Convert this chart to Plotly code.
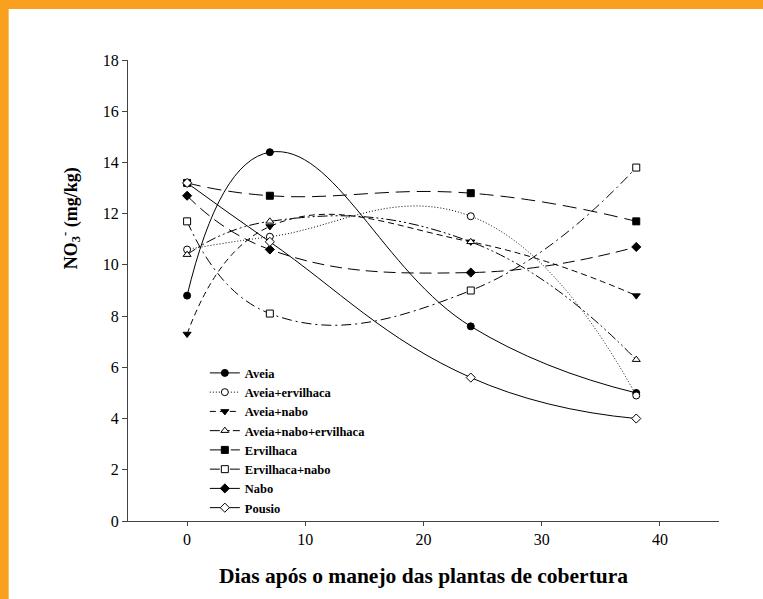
import plotly.graph_objects as go

# ---- data ----
days = [0, 7, 24, 38]
series_names = ["Aveia", "Aveia+ervilhaca", "Aveia+nabo", "Aveia+nabo+ervilhaca",
                "Ervilhaca", "Ervilhaca+nabo", "Nabo", "Pousio"]
aveia = [8.8, 14.4, 7.6, 5.0]
aveia_ervilhaca = [10.6, 11.1, 11.9, 4.9]
aveia_nabo = [7.3, 11.5, 10.9, 8.8]
aveia_nabo_ervilhaca = [10.4, 11.7, 10.9, 6.3]
ervilhaca = [13.2, 12.7, 12.8, 11.7]
ervilhaca_nabo = [11.7, 8.1, 9.0, 13.8]
nabo = [12.7, 10.6, 9.7, 10.7]
pousio = [13.2, 10.9, 5.6, 4.0]
series_values = [aveia, aveia_ervilhaca, aveia_nabo, aveia_nabo_ervilhaca,
                 ervilhaca, ervilhaca_nabo, nabo, pousio]
y_ticks = [0, 2, 4, 6, 8, 10, 12, 14, 16, 18]
x_ticks = [0, 10, 20, 30, 40]

# ---- styles ----
dashes = ["solid", "1px,2px", "6px,4px", "10px,3px,2px,3px,2px,3px",
          "14px,7px", "10px,4px,2px,4px", "12px,6px", "solid"]
symbols = ["circle", "circle", "triangle-down", "triangle-up",
           "square", "square", "diamond", "diamond"]
filled = [True, False, True, False, True, False, True, False]

serif = "Liberation Serif"
orange = "#F9A11F"

fig = go.Figure()
for name, vals, dash, sym, fill in zip(series_names, series_values, dashes, symbols, filled):
    fig.add_trace(go.Scatter(
        x=days, y=vals, name=name, mode="lines+markers",
        line=dict(color="black", width=1, dash=dash, shape="spline", smoothing=1.3),
        marker=dict(symbol=sym, size=7, color="black" if fill else "white",
                    line=dict(color="black", width=1)),
    ))

fig.update_layout(
    width=763, height=599,
    margin=dict(l=128, r=44, t=60, b=78),
    paper_bgcolor="white", plot_bgcolor="white",
    font=dict(family=serif, size=16, color="black"),
    legend=dict(x=0.13, y=0.353, xanchor="left", yanchor="top",
                bgcolor="rgba(0,0,0,0)",
                font=dict(family=serif, size=12.5, color="black", weight="bold"),
                tracegroupgap=0),
    xaxis=dict(range=[-5, 45], tickvals=x_ticks, ticks="outside", ticklen=4,
               showline=True, linecolor="#444", linewidth=1, tickcolor="#444",
               showgrid=False, zeroline=False,
               tickfont=dict(family=serif, size=16, color="black"),
               title=dict(text="<b>Dias após o manejo das plantas de cobertura</b>",
                          font=dict(family=serif, size=21.5, color="black"), standoff=20)),
    yaxis=dict(range=[0, 18], tickvals=y_ticks, ticks="outside", ticklen=5,
               showline=True, linecolor="#444", linewidth=1, tickcolor="#444",
               showgrid=False, zeroline=False,
               tickfont=dict(family=serif, size=16, color="black")),
    annotations=[dict(text="<b>NO<sub>3</sub><sup>-</sup> (mg/kg)</b>", xref="paper", yref="paper",
                      x=-0.098, y=0.657, xanchor="center", yanchor="middle",
                      textangle=-90, showarrow=False,
                      font=dict(family=serif, size=18, color="black"))],
    shapes=[
        dict(type="rect", xref="paper", yref="paper", x0=-0.2166, x1=1.0745, y0=1.1106, y1=1.1302,
             fillcolor=orange, line=dict(width=0), layer="below"),
        dict(type="rect", xref="paper", yref="paper", x0=-0.2166, x1=-0.2019, y0=-0.1692, y1=1.1302,
             fillcolor=orange, line=dict(width=0), layer="below"),
    ],
)

fig.write_html("out.html", config={"displayModeBar": False},
               post_script="document.body.style.margin='0';document.body.style.overflow='hidden';")
